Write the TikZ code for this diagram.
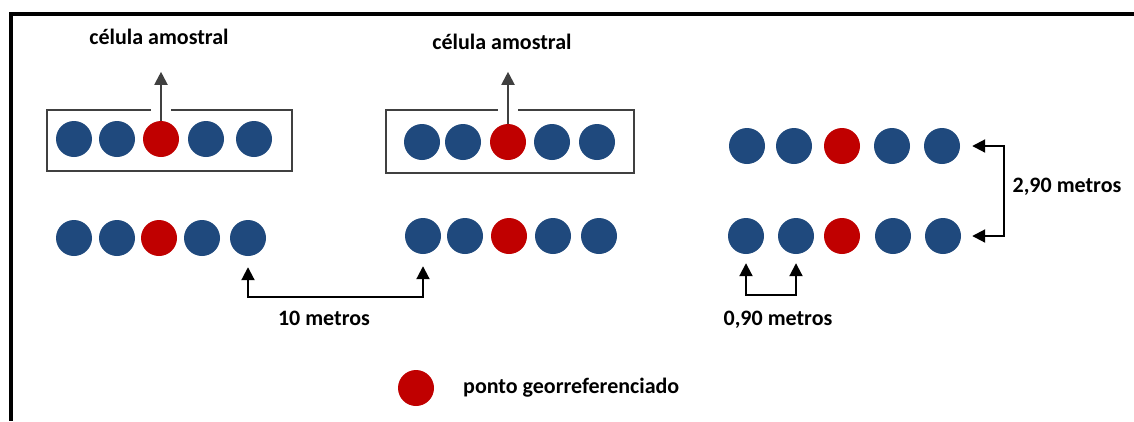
\documentclass[tikz,border=0pt]{standalone}
\usepackage{fontspec}
\setmainfont{Carlito}
\usepackage{xcolor}
\usepackage{tikz}
\usetikzlibrary{arrows.meta}

\definecolor{azulponto}{RGB}{31,73,125}
\definecolor{vermelhoponto}{RGB}{192,0,0}

\begin{document}
\begin{tikzpicture}[x=1pt, y=-1pt,
        ponto/.style={circle, fill=azulponto, inner sep=0pt, minimum size=36pt},
        georef/.style={circle, fill=vermelhoponto, inner sep=0pt, minimum size=36pt},
        rotulo/.style={font=\bfseries\fontsize{22}{26}\selectfont, inner sep=0pt},
        seta/.style={line width=2pt, -{Triangle[width=13pt,length=13pt]}},
        cota/.style={line width=2pt, {Triangle[width=13pt,length=13pt]}-{Triangle[width=13pt,length=13pt]}}]
        \useasboundingbox (0, 0) rectangle (1134, 421);

        % moldura
        \draw[line width=4pt] (1134, 14) -- (10.5, 14) -- (10.5, 421);

        % celula amostral (esquerda)
        \draw[black!75, line width=1.5pt] (47, 110) rectangle (292, 171);
        \node[ponto]  (a1) at (74, 139) {};
        \node[ponto]  (a2) at (117, 139) {};
        \node[georef] (a3) at (161, 139) {};
        \node[ponto]  (a4) at (206, 139) {};
        \node[ponto]  (a5) at (254, 139) {};
        \node[rotulo] (la) at (159, 37) {célula amostral};
        \draw[seta, black!75, preaction={draw=white, line width=20pt, -}] (a3.north) -- ++(0, -49);

        % celula amostral (meio)
        \draw[black!75, line width=1.5pt] (386, 110) rectangle (634, 173);
        \node[ponto]  (b1) at (422, 142) {};
        \node[ponto]  (b2) at (463, 142) {};
        \node[georef] (b3) at (508, 142) {};
        \node[ponto]  (b4) at (552, 142) {};
        \node[ponto]  (b5) at (597, 142) {};
        \node[rotulo] (lb) at (502, 42) {célula amostral};
        \draw[seta, black!75, preaction={draw=white, line width=20pt, -}] (b3.north) -- ++(0, -52);

        % linhas de baixo
        \node[ponto]  (c1) at (74, 238) {};
        \node[ponto]  (c2) at (117, 238) {};
        \node[georef] (c3) at (159, 238) {};
        \node[ponto]  (c4) at (202, 238) {};
        \node[ponto]  (c5) at (248, 238) {};

        \node[ponto]  (d1) at (423, 236) {};
        \node[ponto]  (d2) at (465, 236) {};
        \node[georef] (d3) at (509, 236) {};
        \node[ponto]  (d4) at (553, 236) {};
        \node[ponto]  (d5) at (599, 236) {};

        \coordinate (m10) at (336, 297);
        \draw[cota, shorten <=11pt, shorten >=12pt] (c5.south) |- (m10) -| (d1.south);
        \node[rotulo] (l10) at (324, 318) {10 metros};

        % espacamento entre linhas
        \node[ponto]  (e1) at (747, 146) {};
        \node[ponto]  (e2) at (794, 146) {};
        \node[georef] (e3) at (842, 146) {};
        \node[ponto]  (e4) at (892, 146) {};
        \node[ponto]  (e5) at (942, 146) {};

        \node[ponto]  (f1) at (746, 236) {};
        \node[ponto]  (f2) at (796, 236) {};
        \node[georef] (f3) at (842, 236) {};
        \node[ponto]  (f4) at (893, 236) {};
        \node[ponto]  (f5) at (943, 236) {};

        \coordinate (m290) at (1004, 190);
        \draw[cota, shorten <=12pt, shorten >=11pt] (e5.east) -| (m290) |- (f5.east);
        \node[rotulo] (l290) at (1067, 187) {2,90 metros};

        \coordinate (m090) at (771, 295);
        \draw[cota, shorten <=9pt, shorten >=9pt] (f1.south) |- (m090) -| (f2.south);
        \node[rotulo] (l090) at (778, 320) {0,90 metros};

        % legenda
        \node[georef] (leg) at (416, 388) {};
        \node[rotulo, anchor=west] (lleg) at (463, 388) {ponto georreferenciado};
    \end{tikzpicture}
\end{document}
